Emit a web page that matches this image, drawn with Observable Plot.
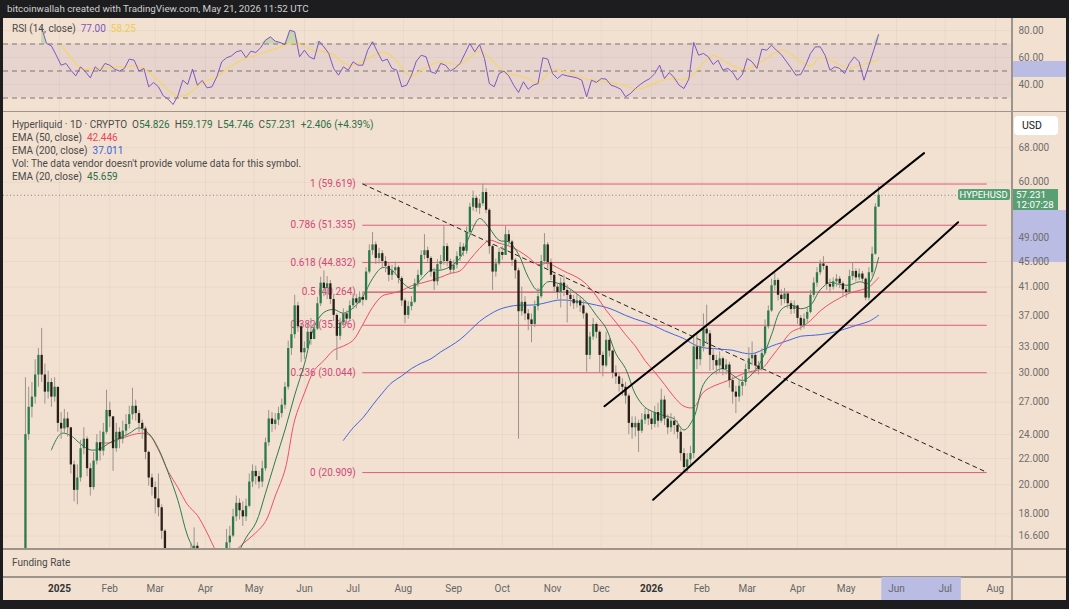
<!DOCTYPE html>
<html><head><meta charset="utf-8">
<script src="https://cdn.jsdelivr.net/npm/d3@7"></script>
<script src="https://cdn.jsdelivr.net/npm/@observablehq/plot@0.6"></script>
<style>
body{margin:0;background:#1d1d1f;width:1069px;height:609px;overflow:hidden;font-family:Roboto,"Liberation Sans",Arial,sans-serif;}
#header{position:absolute;left:7px;top:2px;color:#cfcfcf;font-size:9.8px;line-height:14px;white-space:nowrap;}
#frame{position:absolute;left:3px;top:18px;width:1063px;height:582px;background:#f2e1d0;overflow:hidden;}
.panel{position:absolute;left:0;width:1063px;}
.panel svg{position:absolute;left:0;top:0;}
.abs{position:absolute;}
</style></head>
<body>
<div id="header">bitcoinwallah created with TradingView.com, May 21, 2026 11:52 UTC</div>
<div id="frame"></div>
<script>
// ---------------- data ----------------
const candleStart = "2024-12-09";   // one candle per 2 days
const firstOpen = 12.8;
const closes = [14.5,24.0,26.5,27.5,29.8,32.0,29.8,28.0,29.0,27.5,28.5,25.0,24.5,25.4,24.6,21.5,19.6,20.5,22.8,23.6,
21.2,19.8,21.8,23.3,22.6,24.2,26.2,25.6,22.8,24.2,23.6,24.3,24.9,25.8,26.6,25.9,25.0,24.5,22.5,20.5,
19.8,19.0,18.4,16.9,15.2,14.0,13.4,13.8,14.0,13.9,14.6,14.4,15.3,16.0,15.0,13.7,12.6,12.0,11.5,10.2,
11.3,13.2,14.6,16.2,16.6,17.8,18.7,18.2,17.8,18.5,20.2,21.0,20.6,20.2,21.2,23.3,25.4,24.9,25.3,25.9,
26.7,28.5,32.8,34.5,38.3,35.5,32.3,32.8,34.8,33.9,35.2,38.6,41.6,40.8,41.5,39.2,37.0,34.3,36.0,37.2,
36.5,38.3,39.3,38.7,39.5,39.1,43.3,46.8,47.8,45.5,46.3,45.0,44.2,42.8,43.5,44.0,42.3,39.0,37.0,38.2,
38.8,41.5,42.8,46.0,46.8,45.5,43.3,41.8,44.5,45.0,47.5,45.0,43.6,44.4,45.8,47.4,46.7,50.0,54.8,56.6,
54.6,55.5,57.8,54.2,47.5,43.3,44.6,46.5,46.0,49.6,48.3,45.2,43.5,37.5,38.8,37.2,36.4,35.8,38.2,39.6,
45.0,47.8,44.8,42.8,41.0,40.2,41.6,40.5,39.8,39.2,38.6,39.0,38.3,37.2,32.0,34.2,35.8,34.8,32.0,30.8,
33.8,32.5,30.0,29.6,28.8,28.5,27.6,25.0,24.6,25.0,24.3,25.3,25.8,25.4,24.9,26.0,25.2,27.2,25.4,24.6,
25.2,24.8,24.2,22.4,21.3,21.9,22.4,33.0,31.5,33.0,35.2,34.6,32.0,31.4,30.8,31.6,30.4,30.9,29.2,28.0,
27.5,28.6,29.0,30.4,31.6,32.0,30.8,30.4,32.2,35.5,37.6,41.2,42.0,39.8,39.2,40.0,38.6,37.8,38.3,36.6,
35.6,36.5,37.4,39.8,41.6,43.2,44.6,44.2,41.4,41.0,41.8,42.2,41.5,40.6,40.2,42.6,43.4,42.4,43.0,42.2,
39.4,43.2,46.2,54.826,57.231];
const highs = [15.5,29.5,28.5,29.0,31.5,32.8,35.3,31.0,30.2,29.4,29.5,28.0,26.0,26.3,26.0,24.6,21.8,21.5,23.5,24.6,
23.8,21.6,22.5,24.0,24.3,25.0,28.2,27.0,25.6,25.0,24.6,25.2,25.8,26.6,28.4,27.2,26.2,25.3,24.7,22.6,
20.8,20.2,20.8,18.6,17.0,15.4,14.2,14.5,14.6,14.5,15.2,15.0,16.2,17.1,16.2,15.1,13.8,13.3,12.4,11.6,
12.0,14.0,15.3,17.0,17.2,18.3,19.2,19.0,18.8,19.0,20.8,21.5,21.4,21.0,21.8,23.7,26.2,26.0,25.9,26.5,
27.3,29.0,33.7,36.0,39.8,38.8,35.8,33.6,35.8,36.6,35.9,39.5,42.5,43.5,42.6,42.0,39.8,37.2,36.6,37.9,
37.6,39.0,40.0,39.9,40.3,40.2,44.0,47.8,50.0,48.3,47.2,46.8,45.8,44.7,44.4,44.9,44.3,42.6,39.3,38.9,
39.6,42.2,43.6,46.8,49.6,47.4,45.8,43.9,45.3,46.0,51.2,48.0,45.4,45.2,46.6,48.2,48.0,51.0,55.6,58.1,
57.0,56.4,59.6,58.6,54.5,47.8,45.4,47.2,47.5,51.1,50.4,48.6,45.5,43.9,41.0,39.6,37.8,37.2,39.0,40.8,
46.0,49.8,48.2,45.4,43.0,41.5,42.4,42.8,41.3,40.6,39.8,39.9,39.5,39.0,37.4,34.8,36.6,36.0,35.0,32.4,
34.8,34.2,32.6,30.8,30.0,29.4,29.0,27.8,25.6,25.6,25.3,25.9,26.4,26.2,26.0,26.6,26.9,28.3,27.6,25.8,
25.9,25.6,25.2,24.5,22.8,22.4,23.0,34.5,34.8,33.9,37.2,38.4,35.0,32.8,32.0,32.4,31.8,31.5,31.2,29.6,
28.6,29.2,29.6,31.0,32.9,33.6,32.2,31.3,32.8,36.4,38.3,42.2,43.1,42.3,40.6,40.8,40.3,39.0,39.0,38.4,
37.0,37.2,38.0,40.5,42.4,44.0,45.2,45.8,44.4,42.2,42.4,42.9,42.6,41.8,41.0,43.6,44.8,43.8,43.8,43.4,
42.4,44.0,47.4,55.5,59.179];
const lows = [12.0,14.0,23.5,25.5,26.8,28.5,29.0,26.8,27.3,26.5,27.0,24.2,23.6,24.0,23.8,20.8,18.8,18.6,20.2,22.3,
20.6,19.2,19.6,21.5,21.8,22.2,24.0,24.6,21.0,22.5,22.8,23.2,23.8,24.5,25.3,25.2,24.2,23.6,21.9,19.9,
19.2,18.0,17.8,16.4,14.8,13.5,12.5,13.0,13.4,13.2,13.7,13.9,14.2,15.0,14.6,13.3,12.1,11.6,10.8,9.3,
9.5,11.0,13.0,14.4,15.6,16.5,17.5,17.6,17.2,17.5,18.4,19.8,20.0,19.7,19.8,21.0,23.0,24.2,24.4,24.8,
25.5,26.3,28.2,32.0,34.0,34.8,31.2,31.5,32.5,33.2,34.0,35.0,38.2,39.6,39.2,38.5,36.2,31.4,33.8,35.5,
35.8,36.2,37.8,37.9,38.6,38.3,39.0,43.0,46.0,44.5,44.6,44.0,43.2,41.8,42.0,42.8,41.5,38.2,35.9,36.5,
37.6,38.6,41.0,42.5,45.3,44.7,42.5,40.5,41.2,43.6,44.4,44.2,42.9,43.0,43.8,45.0,45.8,46.2,49.5,54.0,
53.8,53.4,55.0,53.5,46.2,40.5,42.5,44.3,45.2,46.0,47.6,44.2,42.2,23.6,36.9,36.3,35.0,33.5,35.4,37.6,
39.3,44.6,43.8,42.0,40.2,39.2,38.0,39.6,36.0,38.2,37.8,38.0,37.4,36.5,30.1,31.5,33.8,34.0,30.0,29.6,
30.6,31.8,29.4,28.8,28.0,27.6,26.8,24.0,23.6,23.8,22.5,24.1,24.9,24.8,24.4,24.6,24.6,25.0,24.8,24.0,
24.2,24.0,23.6,21.8,20.9,20.9,21.5,22.0,30.4,30.8,32.4,33.4,30.2,30.3,29.8,30.0,29.7,29.8,28.4,26.8,
25.9,27.0,27.6,28.6,30.0,30.8,30.0,29.8,30.2,32.0,35.2,37.4,40.4,39.0,38.3,38.6,37.9,37.1,37.2,35.8,
35.0,35.2,36.0,37.2,39.4,41.0,42.8,43.6,40.5,40.2,40.6,41.0,40.8,39.6,39.4,40.0,42.0,41.8,42.0,41.6,
39.0,39.0,42.6,46.0,54.746];

const lineStart = "2024-12-21";     // moving averages sampled every 6 days
const ema20 = [null,22.7,24.1,23.9,23.2,22.7,22.8,23.3,23.7,24.1,24.6,24.1,22.8,20.9,18.9,16.6,15.4,14.2,13.2,13.6,
15.3,16.5,17.4,19.4,21.8,24.4,27.7,31.0,35.5,37.4,37.8,37.3,38.0,39.6,42.3,44.0,43.6,41.8,40.8,42.2,
43.6,43.6,44.2,45.6,49.5,52.6,50.8,48.6,48.3,46.2,42.5,40.5,41.8,41.6,41.0,40.0,38.8,37.0,35.3,32.2,
30.5,27.8,26.5,26.0,25.7,25.4,24.4,25.5,28.8,30.0,30.5,29.8,29.2,29.9,31.5,34.5,37.8,38.4,37.9,38.4,
40.6,41.7,41.4,41.3,41.8,41.6,45.659];
const ema50 = [null,null,null,null,null,null,23.3,23.3,23.6,23.9,24.1,24.0,22.7,21.0,19.8,18.6,17.9,16.8,15.7,15.3,
15.8,16.3,16.8,17.5,19.2,21.1,25.3,27.9,30.3,31.4,32.6,33.1,33.8,35.8,38.1,39.7,40.1,40.5,41.2,41.6,
42.0,42.5,43.1,43.5,45.3,47.2,48.6,48.1,47.6,46.8,45.7,44.5,44.7,44.0,43.2,42.5,41.4,39.7,37.7,36.1,
34.5,33.1,31.4,30.1,28.8,27.5,26.6,26.5,28.0,28.6,29.0,29.4,29.9,30.2,30.5,31.8,33.3,34.8,35.4,36.3,
37.6,38.6,39.4,40.1,40.5,41.0,42.446];
const ema200 = [null,null,null,null,null,null,null,null,null,null,null,null,null,null,null,null,null,null,null,null,
null,null,null,null,null,null,null,null,null,null,null,23.5,24.6,25.5,26.7,27.9,29.0,29.7,30.5,31.1,
31.6,32.4,33.1,33.9,35.0,36.2,37.1,37.8,38.2,38.4,38.4,38.5,38.8,39.1,39.1,38.9,38.7,38.4,38.1,37.6,
37.0,36.5,36.1,35.6,35.0,34.5,34.0,33.3,32.9,32.8,32.7,32.6,32.3,32.2,32.6,33.1,33.5,33.9,34.3,34.4,
34.5,34.7,35.0,35.4,35.8,36.2,37.011];
const rsiMA = [null,null,69.0,60.0,52.0,51.5,52.0,52.5,53.0,53.5,53.5,49.0,43.0,36.0,31.5,32.5,38.5,43.0,45.5,51.5,
56.0,59.5,61.5,64.0,66.5,69.0,71.0,68.0,65.0,64.5,62.0,56.0,54.3,57.5,61.0,64.0,61.0,52.5,46.0,50.5,
54.5,56.8,55.5,55.0,60.0,64.5,60.0,52.5,48.0,46.5,44.5,40.7,48.0,51.0,48.8,46.5,44.0,43.0,42.0,40.8,
39.0,36.5,38.0,41.0,43.5,44.2,43.5,48.0,56.0,61.5,58.0,54.0,51.5,52.5,57.0,62.0,65.4,62.5,57.0,53.5,
60.0,58.0,54.5,52.0,54.0,56.0,58.25];

const rsiStart = "2024-12-21";      // RSI sampled every 3 days
const rsi = [82,70.4,68.6,61.7,54.3,55.6,50.6,46.4,53.1,49.4,44.9,53.1,49.9,55.6,54.3,51.4,49.9,51.9,58.8,58.0,
49.9,51.9,38.3,41.5,38.3,31.6,29.1,25.2,31.6,43.2,40.0,51.4,39.5,43.0,37.5,38.3,45.7,56.8,59.8,61.2,
64.2,65.2,59.8,64.7,63.7,67.2,72.8,75.3,72.1,71.1,69.6,80.2,79.0,60.5,65.4,60.5,58.8,72.1,67.9,63.0,
51.9,46.9,53.1,50.6,56.8,54.3,54.3,65.4,71.6,64.2,57.3,58.8,51.9,50.6,38.3,39.5,46.9,57.3,61.7,60.5,
49.4,48.1,55.6,54.3,49.9,52.3,55.6,63.0,70.4,64.2,69.6,59.3,40.7,38.3,48.1,49.9,46.4,39.5,34.1,42.0,
36.5,39.5,40.7,59.8,58.8,48.1,44.4,47.4,46.4,45.7,44.9,43.2,30.9,43.2,41.5,44.4,44.0,39.5,38.3,36.5,
30.9,33.3,37.0,40.0,42.5,44.4,48.1,54.3,44.4,48.9,44.9,39.5,37.0,44.0,71.1,61.7,63.0,60.5,54.8,58.0,
50.6,51.9,48.9,43.2,47.4,59.3,56.8,51.9,66.2,65.4,69.1,65.4,62.2,57.3,52.3,46.9,47.4,54.3,63.0,67.9,
67.9,61.7,50.6,53.1,51.9,48.1,55.6,60.5,56.8,43.2,54.3,65.4,77.0];
const rsiLevels = [70, 50, 30];
const rsiTicks = [40, 60, 80];

const fibRatios = [1, 0.786, 0.618, 0.5, 0.382, 0.236, 0];
const fibPrices = [59.619, 51.335, 44.832, 40.264, 35.696, 30.044, 20.909];
const fibSpan = ["2025-07-07", "2026-07-27"];
const trendDates = ["2025-07-07", "2026-07-27"];
const trendPrices = [59.619, 20.909];
const upperDates = ["2025-12-03", "2026-06-18"];
const upperPrices = [26.6, 66.7];
const lowerDates = ["2026-01-02", "2026-07-09"];
const lowerPrices = [18.94, 51.9];
const priceTicks = [16.6, 18, 20, 22, 24, 27, 30, 33, 37, 41, 45, 49, 60, 68];
const lastPrice = 57.231, lastTime = "12:07:28";
const priceHighlight = [44.9, 54.1];
const rsiHighlight = [45.2, 57.0];
const timeHighlight = ["2026-05-23", "2026-07-11"];

// ---------------- build ----------------
const DAY = 864e5;
const jan1 = Date.UTC(2025, 0, 1);
const xDomain = [new Date(jan1 - 34.53 * DAY), new Date(jan1 + 586.93 * DAY)];
const W = 1063, MR = 55;
const months = d3.utcMonths(new Date(Date.UTC(2025,0,1)), new Date(Date.UTC(2026,7,2)));
const t0 = Date.parse(candleStart);
const candles = closes.map((c, i) => ({
  date: new Date(t0 + i * 2 * DAY), open: i ? closes[i-1] : firstOpen, high: highs[i], low: lows[i], close: c
}));
const l0 = Date.parse(lineStart);
const lines = ema20.map((v, j) => ({date: new Date(l0 + j*6*DAY), e20: v, e50: ema50[j], e200: ema200[j], ma: rsiMA[j]}));
const r0 = Date.parse(rsiStart);
const rsiData = rsi.map((v, k) => ({date: new Date(r0 + k*3*DAY), v}));
const fib = fibRatios.map((r, i) => ({r, p: fibPrices[i], label: `${r} (${fibPrices[i].toFixed(3)})`}));
const D = s => new Date(s);
const baseStyle = {background: "transparent", fontFamily: "Roboto, 'Liberation Sans', Arial, sans-serif", fontSize: "10px", overflow: "visible"};
const grid = {stroke: "#000", strokeOpacity: 0.035};

const frame = document.getElementById("frame");
function panel(top, h) { const d = document.createElement("div"); d.className = "panel"; d.style.top = top + "px"; d.style.height = h + "px"; frame.appendChild(d); return d; }
function box(parent, css, html) { const d = document.createElement("div"); d.className = "abs"; Object.assign(d.style, css); if (html) d.innerHTML = html; parent.appendChild(d); return d; }
const legendCss = {fontSize: "10px", lineHeight: "12px", color: "#4a4a4a", whiteSpace: "nowrap"};

// RSI panel
const rsiPanel = panel(0, 93);
const rsiPlot = Plot.plot({
  width: W, height: 93, marginLeft: 0, marginTop: 0, marginBottom: 0, marginRight: MR, style: baseStyle,
  x: {type: "utc", domain: xDomain, axis: null},
  y: {domain: [20, 88.89], axis: null},
  marks: [
    Plot.ruleX(months, {...grid}),
    Plot.ruleY(rsiTicks, {...grid}),
    Plot.rect([0], {x1: xDomain[0], x2: xDomain[1], y1: 30, y2: 70, fill: "#7e57c2", fillOpacity: 0.09}),
    Plot.ruleY(rsiLevels, {stroke: "#7d7570", strokeDasharray: "5,4", strokeWidth: 1}),
    Plot.areaY(rsiData, {x: "date", y1: 70, y2: d => Math.max(70, d.v), fill: "#66bb6a", fillOpacity: 0.3}),
    Plot.line(lines, {x: "date", y: "ma", stroke: "#f4d56a", strokeWidth: 1.2, curve: "catmull-rom"}),
    Plot.line(rsiData, {x: "date", y: "v", stroke: "#7e57c2", strokeWidth: 1}),
    Plot.axisY(rsiTicks, {anchor: "right", tickSize: 0, tickPadding: 7, tickFormat: d => d.toFixed(2), color: "#6e6e6e", fontSize: 10, label: null})
  ]
});
{
  const ys = rsiPlot.scale("y");
  const a = ys.apply(rsiHighlight[1]), b = ys.apply(rsiHighlight[0]);
  box(rsiPanel, {left: "1009px", top: a + "px", width: "54px", height: (b - a) + "px", background: "#babce4"});
}
rsiPanel.appendChild(rsiPlot);
box(rsiPanel, {left: "9px", top: "5px", ...legendCss},
  'RSI (14, close)&nbsp; <span style="color:#7e57c2">77.00</span>&nbsp; <span style="color:#f0cc52">58.25</span>');

box(frame, {left: "0", top: "92.5px", width: W + "px", height: "1.5px", background: "#9d948b"});

// Price panel
const pricePanel = panel(94, 436);
const pricePlot = Plot.plot({
  width: W, height: 436, marginLeft: 0, marginTop: 0, marginBottom: 0, marginRight: MR, style: baseStyle,
  x: {type: "utc", domain: xDomain, axis: null},
  y: {type: "log", domain: [15.87, 77.30], axis: null},
  marks: [
    Plot.ruleX(months, {...grid}),
    Plot.ruleY(priceTicks, {...grid}),
    Plot.ruleY(fib, {y: "p", x1: D(fibSpan[0]), x2: D(fibSpan[1]), stroke: d => d.r === 0.5 ? "#b8324f" : "#dd5d7d", strokeWidth: 1}),
    Plot.text(fib, {x: D(fibSpan[0]), y: "p", text: "label", textAnchor: "end", dx: -7, fill: "#d2477a", fontSize: 10}),
    Plot.ruleY([lastPrice], {x1: xDomain[0], x2: D("2026-07-09"), stroke: "#7a8c80", strokeDasharray: "1,2.5", strokeWidth: 1}),
    Plot.line(trendDates.map((d, i) => ({d: D(d), p: trendPrices[i]})), {x: "d", y: "p", stroke: "#222", strokeDasharray: "4,4", strokeWidth: 1}),
    Plot.line(lines, {x: "date", y: "e200", stroke: "#3f66e0", strokeWidth: 1, curve: "catmull-rom", clip: true}),
    Plot.line(lines, {x: "date", y: "e50", stroke: "#ef4f63", strokeWidth: 1, curve: "catmull-rom", clip: true}),
    Plot.line(lines, {x: "date", y: "e20", stroke: "#2b7d4e", strokeWidth: 1, curve: "catmull-rom", clip: true}),
    Plot.ruleX(candles, {x: "date", y1: "low", y2: "high", stroke: "#9a938d", strokeWidth: 1, clip: true}),
    Plot.ruleX(candles, {x: "date", y1: "open", y2: "close", stroke: d => d.close >= d.open ? "#2c7a4b" : "#2a1f18", strokeWidth: 2.3, clip: true}),
    Plot.line(upperDates.map((d, i) => ({d: D(d), p: upperPrices[i]})), {x: "d", y: "p", stroke: "#000", strokeWidth: 2}),
    Plot.line(lowerDates.map((d, i) => ({d: D(d), p: lowerPrices[i]})), {x: "d", y: "p", stroke: "#000", strokeWidth: 2}),
    Plot.axisY(priceTicks, {anchor: "right", tickSize: 0, tickPadding: 7, tickFormat: d => d.toFixed(3), color: "#6e6e6e", fontSize: 10, label: null})
  ]
});
{
  const ys = pricePlot.scale("y");
  const a = ys.apply(priceHighlight[1]), b = ys.apply(priceHighlight[0]);
  box(pricePanel, {left: "1009px", top: a + "px", width: "54px", height: (b - a) + "px", background: "#babce4"});
}
pricePanel.appendChild(pricePlot);
{
  const yl = pricePlot.scale("y").apply(lastPrice);
  const xl = pricePlot.scale("x").apply(D("2026-07-09"));
  box(pricePanel, {left: xl + "px", top: (yl - 5.5) + "px", width: "52px", height: "11px", background: "#58a074", color: "#fff",
    fontSize: "9.4px", lineHeight: "11px", textAlign: "center", borderRadius: "2px"}, "HYPEHUSD");
  box(pricePanel, {left: "1009px", top: (yl - 5.5) + "px", width: "46px", height: "21px", background: "#58a074", color: "#fff",
    fontSize: "9.8px", lineHeight: "10px", paddingLeft: "4px", boxSizing: "border-box", paddingTop: "0.5px"}, lastPrice.toFixed(3) + "<br>" + lastTime);
  box(pricePanel, {left: "1011px", top: "4px", width: "44px", height: "19px", background: "#ffffff", borderRadius: "4px", color: "#131722",
    fontSize: "10.5px", lineHeight: "19px", paddingLeft: "8px", boxSizing: "border-box"}, "USD");
}
const legend = [
  'Hyperliquid · 1D · CRYPTO&nbsp; O<span style="color:#2a7048">54.826</span>&nbsp; H<span style="color:#2a7048">59.179</span>&nbsp; L<span style="color:#2a7048">54.746</span>&nbsp; C<span style="color:#2a7048">57.231</span>&nbsp; <span style="color:#2a7048">+2.406 (+4.39%)</span>',
  'EMA (50, close)&nbsp; <span style="color:#e8455a">42.446</span>',
  'EMA (200, close)&nbsp; <span style="color:#3a63d8">37.011</span>',
  "Vol: The data vendor doesn't provide volume data for this symbol.",
  'EMA (20, close)&nbsp; <span style="color:#2a7048">45.659</span>'
];
legend.forEach((t, i) => box(pricePanel, {left: "9px", top: (7 + i * 13) + "px", ...legendCss}, t));

box(frame, {left: "0", top: "530px", width: W + "px", height: "1.5px", background: "#9d948b"});
box(frame, {left: "9px", top: "539px", ...legendCss}, "Funding Rate");
box(frame, {left: "0", top: "558px", width: W + "px", height: "1.5px", background: "#9d948b"});

// time axis
const timePanel = panel(559, 23);
const timePlot = Plot.plot({
  width: W, height: 23, marginLeft: 0, marginTop: 0, marginBottom: 0, marginRight: MR, style: baseStyle,
  x: {type: "utc", domain: xDomain, axis: null},
  marks: [
    Plot.rect([0], {x1: D(timeHighlight[0]), x2: D(timeHighlight[1]), fill: "#babce4"}),
    Plot.text(months.filter(d => d.getUTCMonth() !== 0), {x: d => d, text: d => d3.utcFormat("%b")(d), frameAnchor: "middle", fill: "#666", fontSize: 10}),
    Plot.text(months.filter(d => d.getUTCMonth() === 0), {x: d => d, text: d => String(d.getUTCFullYear()), frameAnchor: "middle", fill: "#333", fontSize: 10, fontWeight: "bold"})
  ]
});
timePanel.appendChild(timePlot);

box(frame, {left: "1008px", top: "0", width: "1.5px", height: "582px", background: "#9d948b"});
</script>
</body></html>
